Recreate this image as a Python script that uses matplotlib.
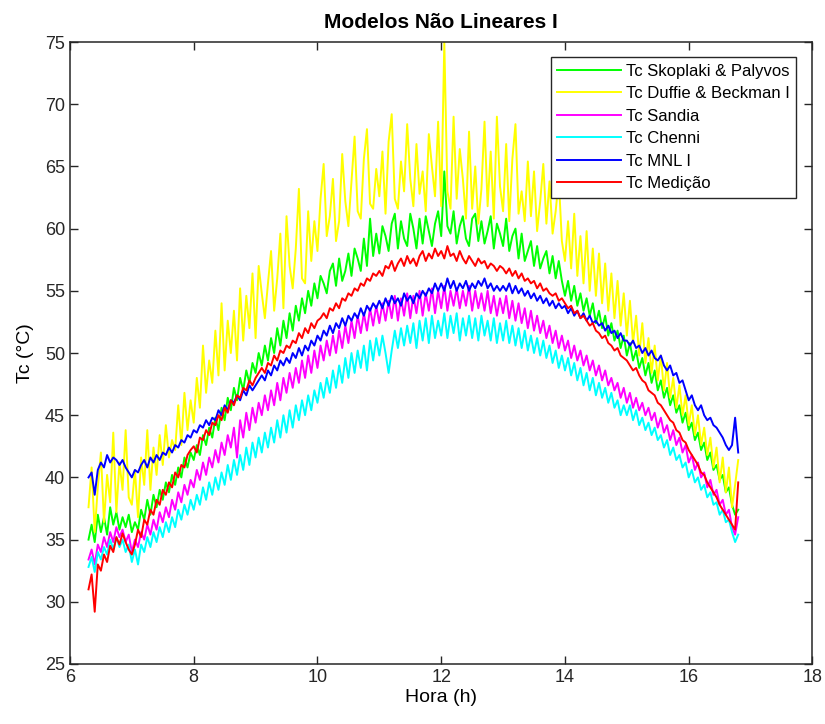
import matplotlib
matplotlib.use("Agg")
import matplotlib.pyplot as plt
import numpy as np

plt.rcParams['font.family'] = ['Liberation Sans', 'DejaVu Sans']

# one reading every 0.05 h, starting at 6.30 h
t_start = 6.30
t_step = 0.05

# Tc Skoplaki & Palyvos
tc_skoplaki = [
    35.0, 36.2, 34.8, 37.0, 35.6, 36.8, 35.4, 37.6, 36.2, 37.2, 35.8, 36.8, 36.0, 37.0,
    35.6, 36.4, 35.8, 37.4, 36.6, 38.2, 37.0, 38.6, 37.6, 39.0, 38.2, 39.6, 38.8, 40.2, 39.4, 40.8, 40.0, 41.6, 40.8, 42.0,
    41.4, 42.6, 41.8, 43.4, 42.6, 44.0, 43.2, 44.8, 43.8, 45.6, 44.6, 46.4, 45.4, 47.2, 46.2, 48.0, 47.0, 48.6, 47.6, 49.2,
    48.4, 50.0, 49.0, 50.6, 49.4, 51.2, 50.0, 52.0, 50.6, 52.6, 51.2, 53.2, 51.8, 53.8, 52.6, 54.4, 53.2, 55.0, 53.8, 55.6,
    54.4, 56.2, 55.6, 54.8, 56.6, 57.2, 55.4, 57.6, 55.8, 56.6, 58.0, 56.2, 58.4, 57.6, 56.6, 59.2, 57.0, 60.8, 57.8, 59.6,
    58.0, 60.2, 59.4, 58.2, 60.4, 61.2, 58.4, 60.6, 59.2, 58.6, 61.2, 60.0, 58.4, 60.8, 58.8, 61.0, 59.8, 58.6, 60.4, 61.4,
    59.4, 64.6, 60.2, 59.6, 61.4, 58.8, 60.2, 61.0, 59.2, 58.6, 60.8, 61.2, 59.0, 60.6, 58.8, 59.8, 61.0, 58.4, 60.4, 59.6,
    58.6, 60.8, 58.2, 59.4, 60.0, 57.6, 59.6, 57.4, 58.2, 59.0, 57.0, 58.6, 56.8, 57.6, 58.2, 56.4, 57.8, 56.0, 57.4, 55.8,
    54.6, 55.8, 54.2, 55.4, 53.8, 54.8, 53.4, 54.4, 53.0, 54.0, 52.4, 53.4, 52.0, 53.0, 51.4, 52.4, 51.0, 51.8, 50.4, 51.4,
    49.8, 50.8, 49.4, 50.2, 48.8, 49.6, 48.2, 49.2, 47.6, 48.6, 47.0, 47.8, 46.4, 47.2, 45.8, 46.6, 45.2, 45.8, 44.4, 45.2,
    43.8, 44.4, 43.0, 43.6, 42.2, 42.8, 41.4, 42.0, 40.6, 41.0, 39.8, 40.2, 38.8, 39.2, 37.8, 37.0, 37.4,
]

# Tc Duffie & Beckman I
tc_duffie = [
    37.6, 40.8, 35.6, 39.2, 42.0, 36.4, 40.2, 38.0, 43.6, 37.2, 41.2, 39.0, 43.8, 38.4,
    37.8, 40.6, 36.8, 41.6, 39.4, 43.8, 39.0, 42.4, 40.2, 43.4, 41.0, 44.2, 41.6, 43.0, 42.2, 45.8, 42.6, 46.8, 43.8, 46.2,
    44.4, 48.0, 45.6, 50.6, 46.8, 49.4, 47.6, 51.8, 48.2, 54.0, 48.6, 52.6, 50.0, 53.4, 49.4, 55.2, 51.0, 54.6, 52.0, 56.4,
    51.2, 57.0, 54.8, 52.8, 55.6, 58.2, 53.4, 56.0, 59.6, 53.6, 61.0, 57.0, 55.2, 58.4, 63.2, 56.0, 55.6, 61.4, 57.4, 60.6,
    58.2, 62.4, 65.2, 59.4, 61.0, 64.0, 59.0, 60.6, 66.0, 62.2, 60.2, 63.8, 67.4, 61.4, 60.8, 65.6, 68.0, 62.0, 61.6, 64.8,
    62.6, 66.2, 61.2, 67.0, 69.2, 62.4, 61.6, 65.4, 63.0, 68.4, 64.0, 61.8, 66.8, 62.8, 64.6, 61.4, 67.6, 65.0, 62.6, 68.6,
    61.8, 75.0, 63.0, 61.6, 69.0, 62.4, 66.4, 64.0, 60.8, 67.8, 61.6, 65.0, 60.4, 63.2, 68.6, 61.8, 66.2, 60.8, 69.0, 63.4,
    61.4, 66.8, 60.6, 65.6, 68.4, 61.2, 63.0, 60.6, 65.4, 61.0, 64.6, 59.8, 62.2, 65.2, 60.4, 63.8, 59.6, 61.4, 64.0, 59.0,
    57.4, 60.6, 56.8, 61.2, 56.2, 59.4, 55.6, 59.8, 55.0, 58.4, 54.6, 58.0, 54.0, 57.2, 53.4, 56.4, 52.8, 55.8, 52.2, 54.8,
    51.4, 54.2, 50.8, 53.0, 49.8, 52.4, 49.2, 51.2, 48.4, 50.6, 47.8, 49.8, 47.0, 49.2, 46.4, 48.0, 45.6, 47.4, 45.0, 46.6,
    44.2, 45.8, 43.4, 45.0, 42.6, 44.0, 41.8, 43.2, 40.8, 42.4, 39.6, 41.6, 38.8, 40.8, 37.6, 39.4, 41.4,
]

# Tc Sandia
tc_sandia = [
    33.4, 34.2, 33.0, 34.6, 34.0, 35.2, 34.4, 35.6, 34.8, 36.0, 35.2, 35.8, 34.8, 35.4,
    34.0, 35.0, 34.4, 35.6, 35.0, 36.2, 35.4, 36.6, 35.8, 37.2, 36.4, 37.6, 36.8, 38.2, 37.4, 38.8, 38.0, 39.4, 38.6, 39.8,
    39.2, 40.6, 39.8, 41.2, 40.2, 41.6, 40.8, 42.2, 41.2, 42.8, 41.8, 43.4, 42.4, 44.0, 41.6, 44.6, 43.2, 45.2, 43.8, 45.6,
    44.4, 46.0, 45.0, 46.6, 45.4, 47.0, 45.8, 47.6, 46.2, 48.0, 46.8, 48.4, 47.2, 48.8, 47.6, 49.4, 48.0, 49.8, 48.4, 50.2,
    48.8, 50.6, 49.4, 51.0, 49.8, 51.4, 50.0, 51.8, 50.4, 52.2, 50.8, 52.6, 51.2, 53.0, 51.6, 53.2, 51.8, 53.6, 52.2, 53.8,
    52.4, 54.0, 52.6, 54.2, 52.8, 54.6, 52.6, 54.4, 53.0, 54.8, 52.8, 54.6, 53.2, 55.0, 53.0, 54.8, 53.4, 55.2, 53.2, 55.0,
    53.6, 55.4, 53.4, 55.0, 53.8, 55.2, 53.6, 55.0, 53.8, 55.4, 53.4, 55.0, 53.6, 54.8, 53.4, 55.0, 53.2, 54.6, 53.0, 54.4,
    53.2, 54.6, 52.8, 54.2, 52.6, 54.0, 52.4, 53.6, 52.0, 53.4, 51.8, 53.0, 51.6, 52.6, 51.2, 52.2, 50.8, 51.8, 50.4, 51.4,
    50.2, 51.0, 49.6, 50.6, 49.4, 50.2, 49.0, 49.8, 48.6, 49.4, 48.2, 49.0, 47.8, 48.6, 47.4, 48.0, 47.0, 47.6, 46.4, 47.2,
    46.0, 46.8, 45.6, 46.4, 45.4, 46.0, 45.0, 45.6, 44.6, 45.2, 44.0, 44.8, 43.6, 44.2, 43.0, 43.8, 42.6, 43.2, 42.0, 42.6,
    41.2, 41.8, 40.6, 41.2, 40.0, 40.4, 39.2, 39.8, 38.6, 39.0, 37.8, 38.2, 37.0, 37.4, 36.0, 35.4, 36.8,
]

# Tc Chenni
tc_chenni = [
    32.8, 33.6, 32.4, 34.0, 33.4, 34.4, 33.8, 35.0, 34.2, 35.2, 34.4, 35.0, 34.0, 34.6,
    33.2, 34.2, 33.0, 34.6, 34.0, 35.2, 34.4, 35.6, 34.8, 36.0, 35.2, 36.4, 35.6, 36.8, 36.0, 37.4, 36.6, 37.8, 37.0, 38.2,
    37.4, 38.6, 37.8, 39.2, 38.2, 39.6, 38.6, 40.0, 39.0, 40.4, 39.4, 41.0, 39.8, 41.4, 40.2, 41.8, 40.6, 42.4, 41.0, 42.8,
    41.6, 43.2, 42.0, 43.6, 42.4, 44.0, 42.8, 44.6, 43.2, 45.0, 43.6, 45.4, 44.0, 45.8, 44.6, 46.2, 45.0, 46.6, 45.4, 47.0,
    46.0, 47.6, 46.4, 48.0, 46.8, 48.6, 47.2, 49.0, 47.6, 49.6, 48.0, 50.0, 48.4, 50.2, 48.8, 50.6, 48.6, 51.0, 49.4, 51.2,
    49.8, 51.4, 50.0, 48.4, 50.2, 51.8, 50.4, 52.0, 50.6, 52.2, 50.8, 52.4, 50.4, 52.6, 51.0, 52.8, 50.8, 53.0, 51.2, 52.6,
    51.4, 53.2, 51.2, 53.0, 51.6, 53.2, 51.0, 52.8, 51.4, 53.0, 51.2, 52.8, 51.0, 53.0, 51.4, 52.6, 51.0, 52.8, 50.8, 52.4,
    51.0, 52.6, 50.8, 52.2, 50.6, 52.0, 50.4, 51.8, 50.2, 51.4, 50.0, 51.2, 49.8, 51.0, 49.6, 50.6, 49.2, 50.2, 48.8, 49.8,
    48.6, 49.6, 48.2, 49.2, 47.8, 48.8, 47.4, 48.4, 47.0, 48.0, 46.6, 47.6, 46.4, 47.2, 46.0, 46.8, 45.6, 46.2, 45.0, 45.8,
    45.0, 45.8, 44.6, 45.4, 44.2, 44.8, 43.8, 44.4, 43.4, 44.0, 43.0, 43.4, 42.4, 43.0, 41.8, 42.4, 41.4, 41.8, 40.8, 41.2,
    40.0, 40.6, 39.6, 40.0, 39.0, 39.4, 38.4, 38.8, 37.8, 38.0, 37.0, 37.4, 36.4, 36.6, 35.6, 34.8, 35.4,
]

# Tc MNL I
tc_mnl = [
    40.0, 40.4, 38.6, 40.6, 41.2, 40.8, 41.8, 41.2, 41.6, 41.4, 41.0, 41.4, 40.8, 40.4,
    40.0, 40.6, 40.4, 41.0, 41.4, 40.8, 41.6, 41.2, 41.8, 41.4, 42.0, 41.8, 42.4, 42.0, 42.6, 42.4, 43.0, 42.8, 43.4, 43.2,
    43.8, 43.6, 44.2, 44.0, 44.6, 44.2, 44.8, 44.6, 45.4, 45.0, 45.8, 45.4, 46.2, 46.0, 46.6, 46.2, 47.0, 46.6, 47.4, 47.0,
    47.4, 47.8, 48.2, 47.8, 48.6, 48.2, 49.0, 48.6, 49.4, 49.0, 49.6, 49.2, 50.0, 49.6, 50.4, 49.8, 50.6, 50.2, 51.0, 50.6,
    51.4, 51.0, 51.8, 51.4, 52.2, 51.6, 52.4, 52.0, 52.8, 52.2, 53.0, 52.6, 53.2, 52.8, 53.6, 53.0, 53.8, 53.4, 54.0, 53.6,
    54.2, 53.6, 54.4, 53.8, 54.6, 54.0, 54.4, 53.8, 54.8, 54.2, 54.6, 54.0, 54.8, 54.4, 55.0, 54.6, 55.2, 54.8, 55.6, 55.0,
    55.6, 55.0, 56.0, 55.2, 55.8, 55.0, 55.6, 55.2, 55.8, 55.0, 55.6, 55.2, 55.8, 55.4, 56.0, 55.2, 55.6, 55.0, 55.4, 55.0,
    55.4, 55.0, 55.6, 54.8, 55.4, 54.8, 55.2, 54.6, 55.0, 54.4, 54.8, 54.2, 54.6, 54.0, 54.4, 53.8, 54.2, 53.6, 54.0, 53.6,
    53.8, 53.2, 53.6, 53.0, 53.4, 52.8, 53.2, 52.6, 53.0, 52.4, 52.6, 52.2, 52.4, 51.8, 52.2, 51.6, 51.8, 51.2, 51.6, 51.0,
    51.0, 50.6, 51.0, 50.4, 50.6, 50.0, 50.4, 49.8, 50.2, 49.6, 49.4, 49.8, 49.0, 48.6, 49.0, 48.2, 48.4, 47.6, 47.8, 47.0,
    46.2, 46.6, 45.8, 45.4, 45.8, 45.0, 44.6, 44.8, 44.2, 44.0, 43.6, 43.2, 42.6, 42.2, 42.6, 44.8, 42.0,
]

# Tc Medicao (measured)
tc_medicao = [
    31.0, 32.2, 29.2, 33.0, 32.5, 33.8, 33.2, 34.5, 34.0, 35.2, 34.6, 35.5, 34.8, 34.2,
    33.8, 34.6, 35.8, 35.2, 36.6, 36.2, 37.4, 37.0, 38.2, 37.8, 39.0, 38.6, 39.6, 39.2, 40.4, 40.0, 41.0, 40.8, 41.8, 42.2,
    42.5, 42.0, 43.2, 43.0, 43.8, 43.4, 44.4, 44.2, 45.0, 44.6, 45.6, 45.2, 46.2, 45.8, 46.6, 46.4, 47.2, 47.0, 47.8, 47.4,
    48.0, 48.4, 48.8, 48.4, 49.2, 49.0, 49.8, 49.4, 50.2, 50.0, 50.6, 50.4, 51.0, 50.8, 51.6, 51.2, 52.0, 51.6, 52.4, 52.0,
    52.6, 52.8, 53.2, 52.8, 53.6, 53.4, 54.0, 53.6, 54.4, 54.2, 54.8, 54.6, 55.2, 55.0, 55.6, 55.4, 56.0, 55.8, 56.4, 56.2,
    56.6, 56.2, 57.0, 56.8, 57.4, 56.6, 57.2, 57.6, 57.0, 57.8, 57.2, 57.6, 57.0, 57.8, 58.2, 57.4, 58.0, 57.6, 58.4, 57.8,
    58.2, 57.6, 58.6, 57.8, 58.0, 57.4, 58.2, 57.6, 57.2, 57.8, 57.4, 57.0, 57.6, 57.2, 57.4, 56.8, 57.2, 57.0, 56.6, 57.0,
    56.8, 56.4, 56.8, 56.2, 56.6, 56.0, 56.4, 55.8, 56.0, 55.6, 55.8, 55.2, 55.6, 55.0, 55.2, 54.8, 54.6, 54.8, 54.2, 54.4,
    54.0, 53.6, 53.8, 53.2, 53.4, 52.8, 53.0, 52.6, 52.2, 52.4, 51.8, 51.6, 51.2, 51.4, 50.8, 50.6, 50.2, 50.4, 49.8, 49.6,
    49.4, 49.0, 48.6, 48.8, 48.2, 47.8, 47.6, 47.0, 46.8, 46.6, 46.0, 45.8, 45.4, 45.0, 44.6, 44.4, 43.8, 43.6, 43.0, 42.8,
    42.2, 41.8, 41.4, 41.0, 40.4, 40.2, 39.6, 39.2, 38.8, 38.4, 37.8, 37.4, 37.0, 36.6, 36.2, 35.8, 39.6,
]

series = [
    (tc_skoplaki, (0, 1, 0), "Tc Skoplaki & Palyvos"),
    (tc_duffie, (1, 1, 0), "Tc Duffie & Beckman I"),
    (tc_sandia, (1, 0, 1), "Tc Sandia"),
    (tc_chenni, (0, 1, 1), "Tc Chenni"),
    (tc_mnl, (0, 0, 1), "Tc MNL I"),
    (tc_medicao, (1, 0, 0), "Tc Medição"),
]

fig = plt.figure(figsize=(8.25, 7.24), dpi=100)
ax = fig.add_axes([0.0848, 0.0829, 0.900, 0.859])

for vals, col, name in series:
    hours = t_start + t_step * np.arange(len(vals))
    ax.plot(hours, vals, color=col, lw=1.4, label=name)

ax.set_xlim(6, 18)
ax.set_ylim(25, 75)
ax.set_xticks(np.arange(6, 19, 2))
ax.set_yticks(np.arange(25, 76, 5))
ax.tick_params(direction="in", top=True, right=True, labelsize=13,
               length=6, width=1, colors="#262626", labelcolor="#262626")
for sp in ax.spines.values():
    sp.set_color("#262626")
    sp.set_linewidth(1.1)

ax.set_title("Modelos Não Lineares I", fontsize=15, fontweight="bold", pad=10)
ax.set_xlabel("Hora (h)", fontsize=14, labelpad=2)
ax.set_ylabel("Tc (°C)", fontsize=14, labelpad=8)

leg = ax.legend(loc="upper right", bbox_to_anchor=(0.978, 0.976), fontsize=12,
                fancybox=False, framealpha=1, edgecolor="#262626",
                handlelength=3.8, handletextpad=0.3, labelspacing=0.45,
                borderpad=0.4, borderaxespad=0)
leg.get_frame().set_linewidth(1.0)

fig.savefig("out.png", dpi=100)
